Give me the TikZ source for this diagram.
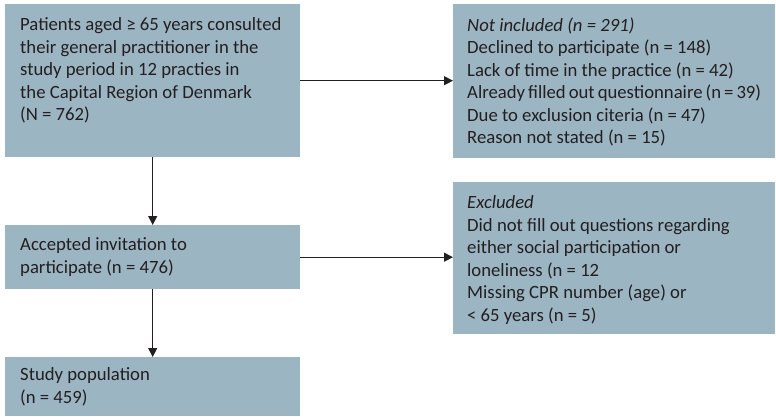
\documentclass[tikz,border=0pt]{standalone}
\usepackage{fontspec}
\setmainfont{Carlito}
\usepackage{xcolor}
\definecolor{boxblue}{RGB}{156,181,194}
\definecolor{inkgray}{RGB}{35,31,32}
\newcommand*{\TopText}[3]{\parbox[c][#1][t]{#2}{\vspace*{13.5pt}#3}}
\newcommand*{\MidText}[3]{\parbox[c][#1][c]{#2}{#3}}
\usetikzlibrary{arrows.meta,positioning}
\tikzset{
  flowbox/.style={fill=boxblue, anchor=north west, inner xsep=15pt, inner ysep=0pt,
    text=inkgray, font=\fontsize{18.7}{22.5}\selectfont},
  flowarrow/.style={draw=inkgray, line width=1pt, -{Triangle[length=9pt,width=9pt]}}
}

\begin{document}
\begin{tikzpicture}[x=1pt,y=-1pt]
    \useasboundingbox (0,0) rectangle (776,417);
    \draw (5,4) node[flowbox] (pat) {\TopText{153pt}{265pt}{Patients aged ≥ 65 years consulted\\
      their general practitioner in the\\ study period in 12 practies in\\
      the Capital Region of Denmark\\ (N = 762)}};
    \draw (453,4) node[flowbox, inner xsep=14pt] (notinc) {\TopText{154pt}{294pt}{\textit{Not included (n = 291)}\\
      Declined to participate (n = 148)\\ Lack of time in the practice (n = 42)\\
      Already filled out questionnaire (n = 39)\\ Due to exclusion citeria (n = 47)\\
      Reason not stated (n = 15)}};
    \draw (5,225) node[flowbox] (acc) {\MidText{64pt}{265pt}{Accepted invitation to\\ participate (n = 476)}};
    \draw (453,182) node[flowbox, inner xsep=14pt] (excl) {\TopText{152pt}{294pt}{\textit{Excluded}\\
      Did not fill out questions regarding\\ either social participation or\\
      loneliness (n = 12\\ Missing CPR number (age) or\\ < 65 years (n = 5)}};
    \draw (5,357) node[flowbox] (stud) {\MidText{59pt}{265pt}{Study population\\ (n = 459)}};
    \draw[flowarrow] (pat.south) -- (acc.north);
    \draw[flowarrow] (acc.south) -- (stud.north);
    \draw[flowarrow] (pat.east) -- (pat.east -| notinc.west);
    \draw[flowarrow] (acc.east) -- (acc.east -| excl.west);
  \end{tikzpicture}
\end{document}
